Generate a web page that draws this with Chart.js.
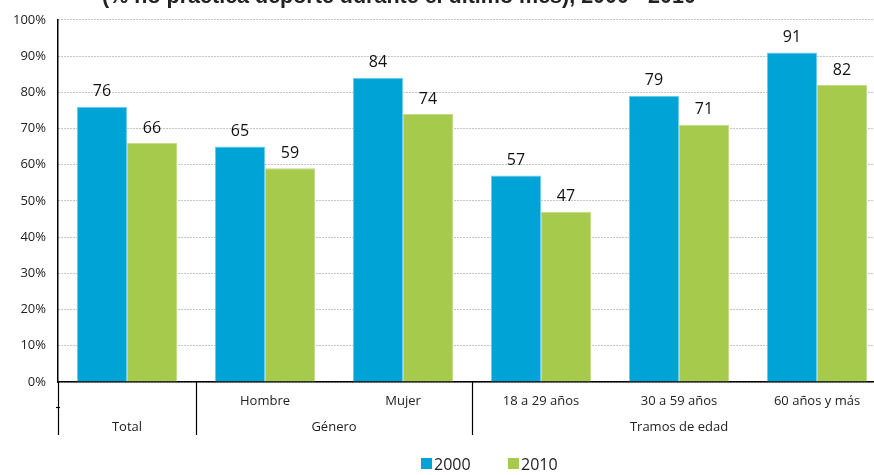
<!DOCTYPE html>
<html>
<head>
<meta charset="utf-8">
<script src="https://cdn.jsdelivr.net/npm/chart.js@4.4.1/dist/chart.umd.min.js"></script>
<style>
html,body{margin:0;padding:0;background:#fff;overflow:hidden;}
#wrap{width:874px;height:475px;overflow:hidden;position:relative;}
#box{width:890px;height:475px;position:absolute;left:0;top:0;}
</style>
</head>
<body>
<div id="wrap"><div id="box"><canvas id="c"></canvas></div></div>
<script>
const titleText = '(% no practica deporte durante el último mes), 2000 - 2010';
const categories = ['', 'Hombre', 'Mujer', '18 a 29 años', '30 a 59 años', '60 años y más'];
const groupLabels = ['Total', 'Género', 'Tramos de edad'];
const groupStart = [0, 1, 3];
const groupEnd = [0, 2, 5];
const seriesNames = ['2000', '2010'];
const values2000 = [76, 65, 84, 57, 79, 91];
const values2010 = [66, 59, 74, 47, 71, 82];
const yTicks = [0, 10, 20, 30, 40, 50, 60, 70, 80, 90, 100];

const BLUE = '#00A3D6', GREEN = '#A6CA4B';
const FONT = "'Open Sans', 'Noto Sans', sans-serif";

const extras = {
  id: 'extras',
  afterDraw(chart) {
    const ctx = chart.ctx;
    const x = chart.scales.x;
    const area = chart.chartArea;
    ctx.save();
    // title (cut off at top)
    ctx.font = "bold 21.5px 'Liberation Sans', Arial, sans-serif";
    ctx.fillStyle = '#222';
    ctx.textAlign = 'center';
    ctx.textBaseline = 'alphabetic';
    ctx.fillText(titleText, 399, 3);
    // data labels
    ctx.font = '16px ' + FONT;
    ctx.fillStyle = '#111';
    ctx.textBaseline = 'middle';
    chart.data.datasets.forEach((ds, di) => {
      chart.getDatasetMeta(di).data.forEach((bar, i) => {
        ctx.fillText(String(ds.data[i]), bar.x, bar.y - 15);
      });
    });
    // separators below axis
    const half = (x.getPixelForValue(1) - x.getPixelForValue(0)) / 2;
    ctx.strokeStyle = '#000';
    ctx.lineWidth = 1.2;
    const seps = [area.left];
    for (let g = 1; g < groupStart.length; g++) seps.push(x.getPixelForValue(groupStart[g]) - half);
    seps.forEach(px => {
      ctx.beginPath();
      ctx.moveTo(Math.round(px) + 0.5, area.bottom);
      ctx.lineTo(Math.round(px) + 0.5, area.bottom + 53);
      ctx.stroke();
    });
    // small tick at left
    ctx.beginPath();
    ctx.moveTo(area.left - 2, area.bottom + 25.5);
    ctx.lineTo(area.left + 2, area.bottom + 25.5);
    ctx.stroke();
    // group labels
    ctx.font = '13px ' + FONT;
    ctx.fillStyle = '#222';
    groupLabels.forEach((lab, g) => {
      const cx = (x.getPixelForValue(groupStart[g]) + x.getPixelForValue(groupEnd[g])) / 2;
      ctx.fillText(lab, cx, area.bottom + 45);
    });
    // legend
    const colors = [BLUE, GREEN];
    const legX = [421, 508];
    ctx.font = '16px ' + FONT;
    ctx.textAlign = 'left';
    seriesNames.forEach((n, i) => {
      ctx.fillStyle = colors[i];
      ctx.fillRect(legX[i], 458, 11, 11);
      ctx.fillStyle = '#222';
      ctx.fillText(n, legX[i] + 13, 465);
    });
    ctx.restore();
  }
};

new Chart(document.getElementById('c'), {
  type: 'bar',
  data: {
    labels: categories,
    datasets: [
      { label: seriesNames[0], data: values2000, backgroundColor: BLUE, borderColor: '#6CCDEE', borderWidth: {left:1,right:1,top:1,bottom:0}, borderSkipped: false },
      { label: seriesNames[1], data: values2010, backgroundColor: GREEN, borderColor: '#C3DC88', borderWidth: {left:1,right:1,top:1,bottom:0}, borderSkipped: false }
    ]
  },
  options: {
    responsive: true,
    maintainAspectRatio: false,
    animation: false,
    devicePixelRatio: 1,
    layout: { padding: { top: 18, right: 4, left: 0, bottom: 0 } },
    datasets: { bar: { categoryPercentage: 0.725, barPercentage: 1 } },
    plugins: { legend: { display: false }, tooltip: { enabled: false }, title: { display: false } },
    scales: {
      x: {
        grid: { display: false, drawTicks: false },
        border: { color: '#000', width: 1.5 },
        ticks: { color: '#222', font: { family: FONT, size: 13 }, padding: 11, maxRotation: 0, autoSkip: false },
        afterFit(s) { s.height = 93; }
      },
      y: {
        min: 0, max: 100,
        afterBuildTicks(s) { s.ticks = yTicks.map(v => ({ value: v })); },
        ticks: { color: '#222', font: { family: FONT, size: 13 }, padding: 12, callback: v => v + '%' },
        grid: { color: '#8a8a8a', lineWidth: 1, drawTicks: false },
        border: { color: '#000', width: 1.5, dash: [1, 2] },
        afterFit(s) { s.width = 58; }
      }
    }
  },
  plugins: [extras]
});
</script>
</body>
</html>
